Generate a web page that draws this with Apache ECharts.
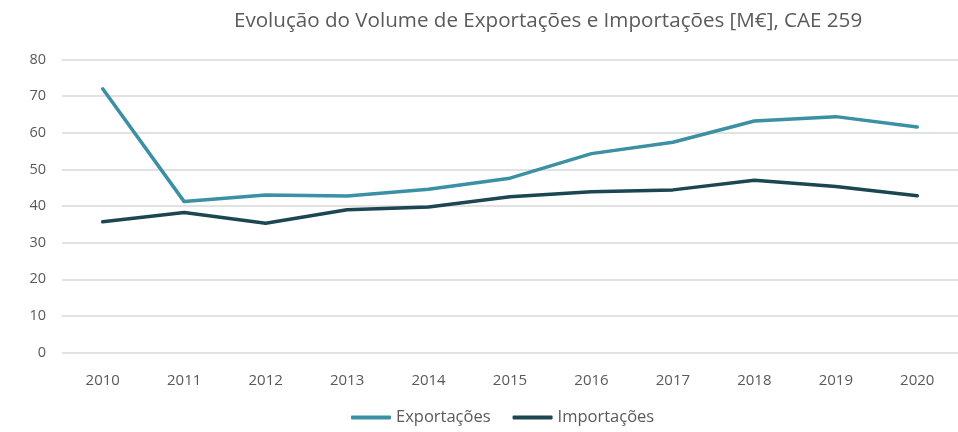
<!DOCTYPE html>
<html>
<head>
<meta charset="utf-8">
<script src="https://cdn.jsdelivr.net/npm/echarts@6/dist/echarts.min.js"></script>
<style>
  html, body { margin: 0; padding: 0; background: #fff; }
  #chart { width: 958px; height: 432px; }
</style>
</head>
<body>
<div id="chart"></div>
<script>
// Anos e valores (M€)
const years = ['2010', '2011', '2012', '2013', '2014', '2015', '2016', '2017', '2018', '2019', '2020'];
const exportacoes = [72.0, 41.2, 43.0, 42.7, 44.6, 47.6, 54.3, 57.4, 63.2, 64.4, 61.6];
const importacoes = [35.7, 38.2, 35.3, 39.0, 39.7, 42.5, 43.9, 44.4, 47.0, 45.3, 42.8];
const yTicks = { min: 0, max: 80, interval: 10 };

const font = '"Open Sans", Lato, sans-serif';
const chart = echarts.init(document.getElementById('chart'));
chart.setOption({
  animation: false,
  textStyle: { fontFamily: font },
  title: {
    text: 'Evolução do Volume de Exportações e Importações [M€], CAE 259',
    left: 229,
    top: 6,
    textStyle: { fontSize: 20.6, fontWeight: 'normal', color: '#5a5a5a', fontFamily: font }
  },
  legend: {
    bottom: 1,
    left: 346,
    itemWidth: 40,
    itemHeight: 4,
    itemGap: 22,
    icon: 'roundRect',
    textStyle: { fontSize: 16.5, color: '#595959', fontFamily: font },
    data: ['Exportações', 'Importações']
  },
  grid: { left: 62, right: -11, top: 59.5, bottom: 79.5 },
  xAxis: {
    type: 'category',
    data: years,
    boundaryGap: true,
    axisLine: { show: false },
    axisTick: { show: false },
    axisLabel: { fontSize: 15, color: '#595959', margin: 21, fontFamily: font }
  },
  yAxis: {
    type: 'value',
    min: yTicks.min,
    max: yTicks.max,
    interval: yTicks.interval,
    axisLine: { show: false },
    axisTick: { show: false },
    axisLabel: { fontSize: 14.5, color: '#595959', margin: 16, fontFamily: font },
    splitLine: { lineStyle: { color: '#d9d9d9', width: 1.5 } }
  },
  series: [
    {
      name: 'Exportações',
      type: 'line',
      data: exportacoes,
      smooth: false,
      symbol: 'none',
      lineStyle: { width: 3.5, color: '#3b91a3', cap: 'round', join: 'round' },
      itemStyle: { color: '#3b91a3' }
    },
    {
      name: 'Importações',
      type: 'line',
      data: importacoes,
      smooth: false,
      symbol: 'none',
      lineStyle: { width: 3.5, color: '#1b4652', cap: 'round', join: 'round' },
      itemStyle: { color: '#1b4652' }
    }
  ]
});
</script>
</body>
</html>
